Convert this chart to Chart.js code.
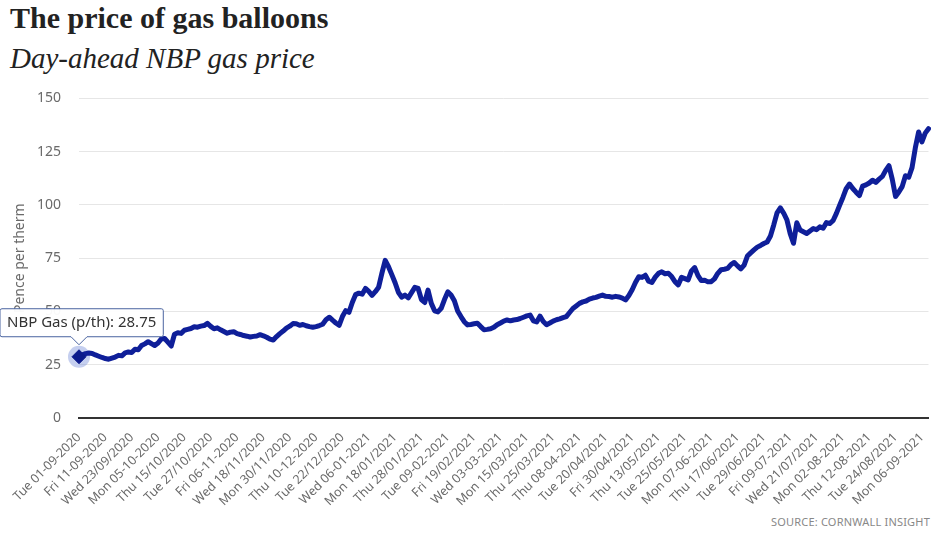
<!DOCTYPE html>
<html>
<head>
<meta charset="utf-8">
<script src="https://cdn.jsdelivr.net/npm/chart.js@4/dist/chart.umd.min.js"></script>
<style>
  html, body { margin: 0; padding: 0; background: #fff; }
  #wrap { position: relative; width: 931px; height: 533px; overflow: hidden; }
  .title { position: absolute; left: 10px; top: 3px; font: bold 30px "Liberation Serif", serif; line-height: 30px; color: #222; white-space: nowrap; }
  .subtitle { position: absolute; left: 10px; top: 44px; font: italic 29px "Liberation Serif", serif; line-height: 29px; color: #222; white-space: nowrap; }
  #chart-box { position: absolute; left: 0; top: 72px; width: 931px; height: 438px; }
  .source { position: absolute; right: 1px; top: 514px; font: 11px "Noto Sans", sans-serif; color: #888; letter-spacing: 0.2px; white-space: nowrap; }
</style>
</head>
<body>
<div id="wrap">
  <div class="title">The price of gas balloons</div>
  <div class="subtitle">Day-ahead NBP gas price</div>
  <div id="chart-box"><canvas id="gas-chart"></canvas></div>
  <div class="source">SOURCE: CORNWALL INSIGHT</div>
</div>
<script>
// --- DATA ---
// every 8th trading day gets a label
const tickLabels = [
  'Tue 01-09-2020', 'Fri 11-09-2020', 'Wed 23/09/2020', 'Mon 05-10-2020', 'Thu 15/10/2020',
  'Tue 27/10/2020', 'Fri 06-11-2020', 'Wed 18/11/2020', 'Mon 30/11/2020', 'Thu 10-12-2020',
  'Tue 22/12/2020', 'Wed 06-01-2021', 'Mon 18/01/2021', 'Thu 28/01/2021', 'Tue 09-02-2021',
  'Fri 19/02/2021', 'Wed 03-03-2021', 'Mon 15/03/2021', 'Thu 25/03/2021', 'Thu 08-04-2021',
  'Tue 20/04/2021', 'Fri 30/04/2021', 'Thu 13/05/2021', 'Tue 25/05/2021', 'Mon 07-06-2021',
  'Thu 17/06/2021', 'Tue 29/06/2021', 'Fri 09-07-2021', 'Wed 21/07/2021', 'Mon 02-08-2021',
  'Thu 12-08-2021', 'Tue 24/08/2021', 'Mon 06-09-2021'
];
const TICK_EVERY = 8;

// day-ahead NBP price, pence per therm, one value per trading day
const nbpPrice = [
  28.75, 29.6, 30.2, 30.5, 30.3, 29.6, 29.0, 28.4, 27.9, 27.6,
  28.1, 28.6, 29.4, 29.2, 30.6, 31.0, 30.7, 32.3, 32.0, 34.0,
  34.8, 35.8, 34.9, 34.0, 35.2, 37.1, 37.3, 35.6, 33.8, 39.3,
  40.0, 39.7, 41.2, 41.6, 42.0, 42.8, 42.6, 43.1, 43.4, 44.4,
  43.0, 41.9, 42.3, 41.4, 40.6, 39.8, 40.3, 40.5, 39.6, 39.2,
  38.7, 38.4, 38.0, 38.3, 38.5, 39.1, 38.6, 37.9, 37.0, 36.6,
  38.2, 39.6, 40.8, 42.2, 43.1, 44.3, 44.2, 43.5, 43.9, 43.3,
  42.9, 42.6, 42.9, 43.4, 44.0, 46.1, 47.3, 45.9, 44.6, 43.5,
  47.6, 50.4, 49.6, 54.2, 57.9, 58.6, 58.1, 60.8, 59.4, 57.6,
  59.3, 61.4, 68.0, 74.0, 71.0, 67.3, 63.5, 59.0, 56.7, 57.7,
  56.4, 58.8, 61.3, 60.8, 55.6, 54.2, 60.0, 53.8, 50.3, 49.8,
  51.5, 55.6, 59.2, 57.7, 55.0, 50.2, 47.6, 45.2, 43.7, 43.9,
  44.2, 44.5, 42.9, 41.4, 41.6, 41.9, 42.6, 43.8, 44.6, 45.5,
  46.0, 45.6, 46.0, 46.2, 46.7, 47.3, 47.9, 48.3, 45.6, 45.1,
  47.8, 45.3, 43.8, 44.6, 45.5, 46.1, 46.5, 47.1, 47.6, 49.5,
  51.4, 52.6, 53.8, 54.5, 54.9, 55.8, 56.3, 56.6, 57.2, 57.7,
  57.1, 57.0, 56.7, 57.1, 56.8, 56.3, 55.4, 57.5, 60.2, 63.6,
  66.3, 66.0, 67.0, 64.2, 63.6, 66.1, 67.9, 68.6, 67.7, 67.9,
  66.4, 64.0, 62.5, 66.0, 65.4, 64.8, 69.0, 70.6, 66.8, 64.5,
  64.7, 63.9, 64.0, 65.3, 67.9, 69.6, 69.8, 70.2, 72.0, 73.0,
  71.4, 70.0, 71.8, 76.0, 77.5, 78.9, 80.2, 81.0, 81.9, 82.6,
  85.4, 90.6, 96.3, 98.6, 96.2, 93.0, 86.5, 82.0, 91.6, 88.2,
  87.4, 86.6, 87.8, 88.9, 88.4, 89.7, 89.1, 91.7, 91.3, 92.6,
  95.9, 99.8, 103.5, 107.6, 109.8, 107.7, 106.0, 104.4, 108.8, 109.4,
  110.3, 111.6, 110.6, 112.1, 113.4, 116.2, 118.4, 112.0, 104.0, 106.1,
  108.6, 113.7, 113.0, 117.5, 126.8, 134.2, 129.6, 133.7, 135.8
];

const yTicks = [0, 25, 50, 75, 100, 125, 150];

// --- STYLE ---
const LINE_BLUE = '#0f1f99';
const TICK_GREY = '#6a6a6a';
const SANS = '"Noto Sans", sans-serif';

// soft halo under the hovered point
const hoverHalo = {
  id: 'hoverHalo',
  beforeDatasetsDraw(chart) {
    const active = chart.getActiveElements();
    if (!active.length) return;
    const ctx = chart.ctx;
    ctx.save();
    active.forEach(a => {
      ctx.beginPath();
      ctx.arc(a.element.x, a.element.y, 11, 0, Math.PI * 2);
      ctx.fillStyle = 'rgba(110, 135, 215, 0.4)';
      ctx.fill();
    });
    ctx.restore();
  }
};

const points = nbpPrice.map((v, i) => ({ x: i, y: v }));

const gasChart = new Chart(document.getElementById('gas-chart'), {
  type: 'line',
  data: {
    datasets: [{
      label: 'NBP Gas (p/th)',
      data: points,
      borderColor: LINE_BLUE,
      borderWidth: 5,
      borderJoinStyle: 'round',
      borderCapStyle: 'round',
      tension: 0,
      fill: false,
      clip: false,
      pointRadius: 0,
      pointHitRadius: 4,
      pointStyle: 'rectRot',
      pointHoverRadius: 7,
      pointHoverBackgroundColor: '#0b1a8c',
      pointHoverBorderColor: '#0b1a8c',
      pointHoverBorderWidth: 1
    }]
  },
  options: {
    responsive: true,
    maintainAspectRatio: false,
    animation: false,
    layout: { padding: { top: 10, left: 0, right: 1, bottom: 0 } },
    interaction: { mode: 'nearest', intersect: false, axis: 'x' },
    plugins: {
      legend: { display: false },
      tooltip: {
        backgroundColor: 'rgba(255, 255, 255, 0.96)',
        borderColor: '#4a64a0',
        borderWidth: 1,
        bodyColor: '#333',
        bodyFont: { family: SANS, size: 15 },
        padding: { x: 7, y: 5 },
        cornerRadius: 2,
        caretSize: 8,
        caretPadding: 12,
        displayColors: false,
        xAlign: 'center',
        yAlign: 'bottom',
        callbacks: {
          title: () => '',
          label: ctx => 'NBP Gas (p/th): ' + ctx.parsed.y.toFixed(2)
        }
      }
    },
    scales: {
      x: {
        type: 'linear',
        min: 0,
        max: nbpPrice.length - 1,
        grid: { display: false, drawTicks: false },
        border: { display: true, color: '#333', width: 2 },
        ticks: {
          stepSize: TICK_EVERY,
          includeBounds: false,
          autoSkip: false,
          minRotation: 45,
          maxRotation: 45,
          padding: 12,
          color: TICK_GREY,
          font: { family: SANS, size: 12.5 },
          callback: v => tickLabels[v / TICK_EVERY] || ''
        },
        afterFit: scale => {
          scale.height = 92;
          // rotated labels hang to the left, so no room is needed on the right
          scale.paddingRight = 0;
        }
      },
      y: {
        min: 0,
        max: 150,
        afterBuildTicks: scale => { scale.ticks = yTicks.map(v => ({ value: v })); },
        grid: {
          drawTicks: false,
          color: ctx => ctx.tick && ctx.tick.value === 0 ? 'rgba(0,0,0,0)' : '#e6e6e6',
          lineWidth: 1
        },
        border: { display: false },
        ticks: {
          padding: 18,
          color: TICK_GREY,
          font: { family: SANS, size: 14 }
        },
        title: {
          display: true,
          text: 'Pence per therm',
          color: TICK_GREY,
          font: { family: SANS, size: 14 },
          padding: { top: 12, bottom: 0 }
        },
        afterFit: scale => { scale.width = 79; }
      }
    }
  },
  plugins: [hoverHalo]
});

// show the reading for the first trading day
const firstPoint = gasChart.getDatasetMeta(0).data[0];
gasChart.setActiveElements([{ datasetIndex: 0, index: 0 }]);
gasChart.tooltip.setActiveElements([{ datasetIndex: 0, index: 0 }], { x: firstPoint.x, y: firstPoint.y });
gasChart.update();
</script>
</body>
</html>
